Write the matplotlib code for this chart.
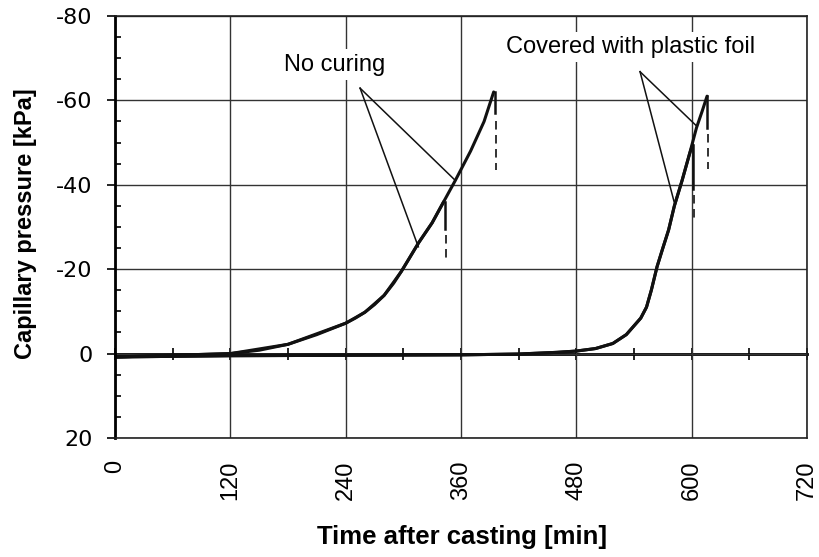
import numpy as np
import matplotlib
matplotlib.use("Agg")
import matplotlib.pyplot as plt
from matplotlib.ticker import MultipleLocator

plt.rcParams['font.family'] = ['Liberation Sans', 'DejaVu Sans']
plt.rcParams['axes.unicode_minus'] = False

# ------ data (time in min, capillary pressure in kPa)

# no curing, specimen that went on longest
nc_long_t = [0, 30, 60, 90, 120, 150, 180, 210, 240, 250, 260, 270, 280, 290,
             298, 306, 316, 330, 342, 354, 370, 384, 394]
nc_long_p = [0.8, 0.6, 0.4, 0.2, 0.0, -0.8, -2.2, -4.5, -7.2, -8.4, -9.8,
             -11.6, -13.8, -16.7, -19.5, -22.5, -26.3, -31, -36, -41, -48,
             -55, -62]

# no curing, specimen that broke off earlier
nc_short_t = [0, 60, 120, 180, 240, 260, 280, 298, 316, 330, 342]
nc_short_p = [0.8, 0.4, 0.0, -2.2, -7.2, -9.8, -13.8, -19.5, -26.3, -31, -36]

# covered with plastic foil
pf_long_t = [0, 120, 240, 360, 420, 460, 480, 500, 518, 532, 547, 553, 558,
             564, 570, 576, 582, 590, 598, 605, 611, 616]
pf_long_p = [0.8, 0.5, 0.4, 0.3, 0.1, -0.3, -0.6, -1.2, -2.4, -4.5, -8.4, -11,
             -15, -20.6, -25, -29.3, -35, -41, -47.5, -53.5, -57.5, -61]

pf_short_t = [0, 120, 240, 360, 420, 460, 480, 500, 518, 532, 547, 553, 558,
              564, 570, 576, 582, 590, 598, 601]
pf_short_p = [0.8, 0.5, 0.4, 0.3, 0.1, -0.3, -0.6, -1.2, -2.4, -4.5, -8.4, -11,
              -15, -20.6, -25, -29.3, -35, -41, -47.5, -49.5]

# drop after the last reading: x, solid part (top, bottom), dashed part (top, bottom)
drop_x = [395, 343, 616, 601]
drop_solid = [(-62, -57), (-36, -29.5), (-61, -53.5), (-49.5, -39)]
drop_dash = [(-55, -43.5), (-28, -21.8), (-52, -43.7), (-37.5, -31)]

x_ticks = [0, 120, 240, 360, 480, 600, 720]
y_ticks = [-80, -60, -40, -20, 0, 20]

# annotation: label, label position, anchor of the pointer lines, targets
notes = [
    ("No curing", (229, -68.5), (255, -62.9), [(353.8, -41.1), (315.6, -25.3)]),
    ("Covered with plastic foil", (536, -72.7), (546.3, -66.8),
     [(605.3, -53.9), (581.7, -36)]),
]

# ------- plot

fig = plt.figure(figsize=(8.2, 5.57), dpi=100)
ax = fig.add_axes([115 / 820, 1 - 438 / 557, 692 / 820, 422 / 557])

ax.set_xlim(0, 720)
ax.set_ylim(20, -80)
ax.set_xticks(x_ticks)
ax.set_yticks(y_ticks)
ax.yaxis.set_minor_locator(MultipleLocator(5))
ax.grid(True, which='major', color='#333333', lw=1.0)
ax.set_axisbelow(True)

ax.tick_params(axis='x', length=0, pad=16, labelsize=17, labelrotation=90)
ax.tick_params(axis='y', which='major', direction='out', length=6, width=1.2,
               pad=10, labelsize=16)
ax.tick_params(axis='y', which='minor', direction='in', length=4, width=1.2)
for lab in ax.get_yticklabels():
    lab.set_family('DejaVu Sans')

for side in ['top', 'right', 'bottom']:
    ax.spines[side].set_linewidth(1.2)
    ax.spines[side].set_color('#222222')
ax.spines['left'].set_linewidth(2)

# zero line with small ticks every hour
zero = ax.secondary_xaxis(0.2)
zero.set_xticks(np.arange(0, 721, 60))
zero.tick_params(direction='inout', length=9, width=1.2, labelbottom=False)
zero.spines['bottom'].set_linewidth(2)

curve_kw = dict(color='#111111', lw=2.2, solid_capstyle='round',
                solid_joinstyle='round')
ax.plot(nc_long_t, nc_long_p, **curve_kw)
ax.plot(nc_short_t, nc_short_p, **curve_kw)
ax.plot(pf_long_t, pf_long_p, **curve_kw)
ax.plot(pf_short_t, pf_short_p, **curve_kw)

for x, s, d in zip(drop_x, drop_solid, drop_dash):
    ax.plot([x, x], s, color='#111111', lw=1.8)
    ax.plot([x + 1.5, x + 1.5], d, color='#333333', lw=1.4,
            linestyle=(0, (4.4, 2.8)))

for label, pos, anchor, targets in notes:
    ax.text(pos[0], pos[1], label, fontsize=17, ha='center', va='center',
            bbox=dict(facecolor='white', edgecolor='none', pad=3), zorder=4)
    for tx, ty in targets:
        ax.plot([anchor[0], tx], [anchor[1], ty], color='#111111', lw=1.1,
                zorder=5)

fig.text(462 / 820, 1 - 537 / 557, 'Time after casting [min]', fontsize=18.5,
         fontweight='bold', ha='center', va='center')
fig.text(26 / 820, 1 - 224 / 557, 'Capillary pressure [kPa]', fontsize=17,
         fontweight='bold', ha='center', va='center', rotation=90)

fig.savefig('out.png', dpi=100)
